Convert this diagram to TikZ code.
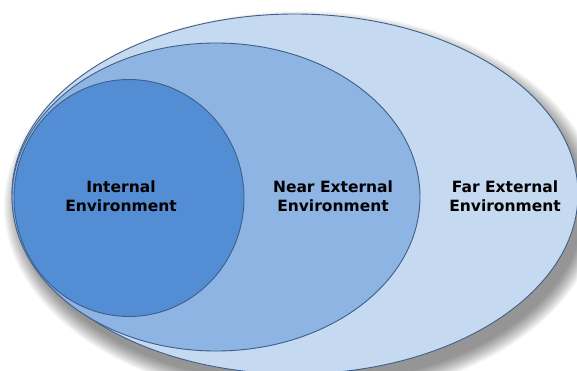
\documentclass[tikz,border=0pt]{standalone}
\usepackage{fontspec}
\setsansfont{DejaVu Sans}
\usetikzlibrary{shapes.geometric}
\definecolor{LightBlue}{RGB}{197,217,241}
\definecolor{MediumBlue}{RGB}{141,180,226}
\definecolor{StrongBlue}{RGB}{83,141,212}
\definecolor{EdgeBlue}{RGB}{62,95,138}

\begin{document}
\begin{tikzpicture}[
    x=1pt, y=-1pt,
    font=\sffamily\bfseries\fontsize{15.5}{18.5}\selectfont,
    env/.style={ellipse, draw=EdgeBlue, line width=0.9pt, inner sep=0pt},
    lbl/.style={align=center, text=black},
]
\useasboundingbox (0,0) rectangle (577,371);
\clip (0,0) rectangle (577,371);

% soft shadow under the outer ellipse
\foreach \k in {0,...,16}
    \fill[black, opacity=0.03] (302,206) ellipse [x radius={(298-\k)*1pt}, y radius={(195-\k)*1pt}];

% ================= environments =================
\node[env, fill=LightBlue, minimum width=566pt, minimum height=360pt] (far) at (295,194) {};
\node[env, fill=MediumBlue, minimum width=408pt, minimum height=308pt] (near) at (216,197) {};
\node[env, fill=StrongBlue, minimum width=230pt, minimum height=237pt] (internal) at (129,198) {};

\node[lbl] (internallbl) at (121,196) {Internal\\Environment};
\node[lbl] (nearlbl) at (333,196) {Near External\\Environment};
\node[lbl] (farlbl) at (505,196) {Far External\\Environment};

\end{tikzpicture}
\end{document}
